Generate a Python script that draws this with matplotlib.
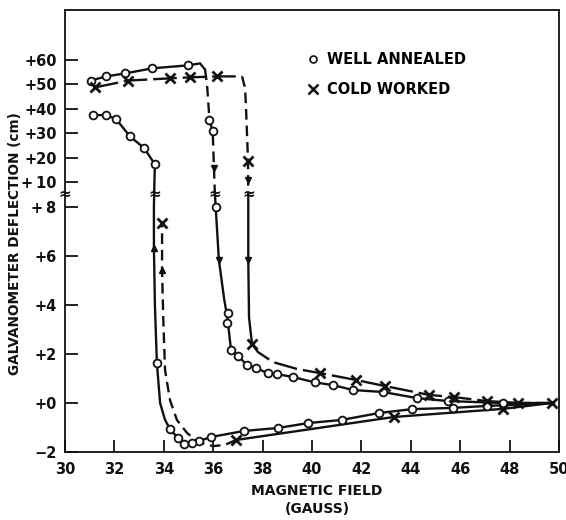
import numpy as np
import matplotlib
matplotlib.use("Agg")
import matplotlib.pyplot as plt
from matplotlib.lines import Line2D

# ---- data (field in gauss, deflection in cm) ----
# well annealed: circles
wa_top_x = [31.05, 31.66, 32.43, 33.53, 34.97]
wa_top_y = [51.6, 53.3, 54.5, 56.6, 57.8]
wa_jump_x = [35.85, 35.98]
wa_jump_y = [35.5, 31.0]
wa_decay_x = [36.1, 36.6, 36.55, 36.72, 37.0, 37.37, 37.73, 38.2, 38.58,
              39.23, 40.12, 40.85, 41.66, 42.87, 44.25, 45.5, 47.73]
wa_decay_y = [8.0, 3.67, 3.25, 2.16, 1.92, 1.55, 1.43, 1.22, 1.18,
              1.06, 0.84, 0.73, 0.53, 0.45, 0.2, 0.08, 0.0]
wa_low_x = [47.08, 45.7, 44.05, 42.71, 41.21, 39.84, 38.62, 37.25, 35.9,
            35.43, 35.14, 34.82, 34.57, 34.25, 33.72]
wa_low_y = [-0.12, -0.2, -0.25, -0.41, -0.69, -0.82, -1.02, -1.14, -1.39,
            -1.55, -1.63, -1.67, -1.43, -1.06, 1.63]
wa_left_x = [33.64, 33.2, 32.63, 32.06, 31.65, 31.14]
wa_left_y = [17.4, 24.1, 28.8, 36.0, 37.5, 37.5]

# cold worked: crosses
cw_top_x = [31.21, 32.55, 34.25, 35.06, 36.15]
cw_top_y = [48.8, 51.6, 52.5, 52.9, 53.3]
cw_jump_x = [37.41]
cw_jump_y = [18.8]
cw_decay_x = [37.57, 40.32, 41.78, 42.96, 44.74, 45.75, 47.08, 48.34, 49.7]
cw_decay_y = [2.41, 1.22, 0.94, 0.69, 0.33, 0.24, 0.08, 0.0, 0.0]
cw_low_x = [47.73, 43.32, 36.92]
cw_low_y = [-0.24, -0.57, -1.51]
cw_left_x = [33.93]
cw_left_y = [7.35]

# curve paths (the drawn lines)
wa_top_path_x = wa_top_x + [35.47, 35.67]
wa_top_path_y = wa_top_y + [58.6, 56.1]
wa_drop_path_x = [35.67, 35.75, 35.85, 35.98, 36.03, 36.07]
wa_drop_path_y = [56.1, 50.0, 35.5, 31.0, 16.0, 9.0]
wa_decay_path_x = [36.07, 36.1, 36.23, 36.45, 36.58, 36.72] + wa_decay_x[4:] + [49.8]
wa_decay_path_y = [9.0, 8.0, 5.84, 4.2, 3.45, 2.16] + wa_decay_y[4:] + [0.0]
wa_low_path_x = [49.8] + wa_low_x[:-1] + [34.05, 33.85, 33.72, 33.64, 33.6, 33.6, 33.62, 33.64] + wa_left_x[1:]
wa_low_path_y = [0.0] + wa_low_y[:-1] + [-0.69, 0.0, 1.63, 4.0, 6.33, 8.0, 10.0, 17.4] + wa_left_y[1:]

cw_top_path_x = cw_top_x + [36.9, 37.17]
cw_top_path_y = cw_top_y + [53.3, 53.3]
cw_fall_path_x = [37.17, 37.25, 37.29, 37.33, 37.41, 37.42]
cw_fall_path_y = [53.3, 50.0, 48.8, 40.0, 18.8, 9.0]
cw_drop_path_x = [37.42, 37.42, 37.45, 37.57]
cw_drop_path_y = [9.0, 5.84, 3.5, 2.41]
cw_decay_path_x = [37.57, 37.81, 38.42, 39.39] + cw_decay_x[1:]
cw_decay_path_y = [2.41, 2.08, 1.67, 1.39] + cw_decay_y[1:]
cw_low_path_x = [49.7] + cw_low_x
cw_low_path_y = [0.0] + cw_low_y
cw_back_path_x = [36.92, 36.48, 35.99, 35.38, 34.94, 34.53, 34.25, 34.05, 33.98, 33.93, 33.93]
cw_back_path_y = [-1.51, -1.71, -1.76, -1.59, -1.22, -0.69, 0.12, 1.35, 3.39, 5.43, 7.35]

# direction arrows
up_x = [33.6, 33.93]
up_y = [6.33, 5.43]
down_x = [36.03, 36.23, 37.41, 37.42]
down_y = [16.1, 5.84, 11.2, 5.84]
# axis break marks
brk_x = [30.0, 33.62, 36.07, 37.42]
brk_y = 9.0

yticks = [-2, 0, 2, 4, 6, 8, 10, 20, 30, 40, 50, 60]
ylabels = ["\u22122", "+0", "+2", "+4", "+6", "+\u20098", "+\u200910",
           "+20", "+30", "+40", "+50", "+60"]
xticks = list(range(30, 51, 2))


def fwd(y):
    y = np.asarray(y, dtype=float)
    return np.where(y <= 8, y, np.where(y <= 10, 8 + (y - 8) / 2, 9 + (y - 10) / 10))


def inv(v):
    v = np.asarray(v, dtype=float)
    return np.where(v <= 8, v, np.where(v <= 9, 8 + (v - 8) * 2, 10 + (v - 9) * 10))


plt.rcParams["font.family"] = ["DejaVu Sans"]
plt.rcParams["font.weight"] = "bold"
K = "#111111"

fig = plt.figure(figsize=(5.66, 5.2), dpi=100)
ax = fig.add_axes([65 / 566, 68 / 520, 494 / 566, 442 / 520])
ax.set_yscale("function", functions=(fwd, inv))
ax.set_xlim(30, 50)
ax.set_ylim(-2, 80.4)

lw = 1.7
solid = dict(color=K, lw=lw, solid_capstyle="round", solid_joinstyle="round")
dash = dict(color=K, lw=lw, linestyle=(0, (4.5, 2.5)))
longdash = dict(color=K, lw=lw, linestyle=(0, (10, 2.5)))

ax.plot(wa_top_path_x, wa_top_path_y, **solid)
ax.plot(wa_drop_path_x, wa_drop_path_y, **dash)
ax.plot(wa_decay_path_x, wa_decay_path_y, **solid)
ax.plot(wa_low_path_x, wa_low_path_y, **solid)
ax.plot(cw_top_path_x, cw_top_path_y, **longdash)
ax.plot(cw_fall_path_x, cw_fall_path_y, **dash)
ax.plot(cw_drop_path_x, cw_drop_path_y, **solid)
ax.plot(cw_decay_path_x, cw_decay_path_y, **longdash)
ax.plot(cw_low_path_x, cw_low_path_y, **solid)
ax.plot(cw_back_path_x, cw_back_path_y, **dash)

circ = dict(ls="none", marker="o", ms=5.6, mfc="white", mec=K, mew=1.3, zorder=4)
for xs, ys in [(wa_top_x, wa_top_y), (wa_jump_x, wa_jump_y), (wa_decay_x, wa_decay_y),
               (wa_low_x, wa_low_y), (wa_left_x, wa_left_y)]:
    ax.plot(xs, ys, **circ)
crs = dict(ls="none", marker="x", ms=6.5, mec=K, mew=2.0, zorder=4)
for xs, ys in [(cw_top_x, cw_top_y), (cw_jump_x, cw_jump_y), (cw_decay_x, cw_decay_y),
               (cw_low_x, cw_low_y), (cw_left_x, cw_left_y)]:
    ax.plot(xs, ys, **crs)

ax.plot(up_x, up_y, ls="none", marker="^", ms=5, color=K, zorder=5)
ax.plot(down_x, down_y, ls="none", marker="v", ms=5, color=K, zorder=5)
for bx in brk_x:
    ax.text(bx, brk_y, "\u2248", ha="center", va="center", fontsize=11,
            fontweight="bold", color=K, zorder=6, clip_on=False)

ax.set_xticks(xticks)
ax.set_xticklabels([str(t) for t in xticks])
ax.set_yticks(yticks)
ax.set_yticklabels(ylabels)
ax.minorticks_off()
ax.tick_params(direction="in", length=9, width=1.3, labelsize=10.5, colors=K)
ax.tick_params(axis="y", pad=6)
ax.tick_params(axis="x", pad=7)
for lab in ax.get_xticklabels() + ax.get_yticklabels():
    lab.set_fontweight("bold")
for s in ax.spines.values():
    s.set_linewidth(1.3)
    s.set_color(K)

fig.text(15 / 566, 1 - 244 / 520, "GALVANOMETER DEFLECTION (cm)", rotation=90,
         ha="center", va="center", fontsize=9.8, fontweight="bold", color=K)
fig.text(317 / 566, 1 - 491 / 520, "MAGNETIC FIELD", ha="center", va="center",
         fontsize=10, fontweight="bold", color=K)
fig.text(317 / 566, 1 - 509 / 520, "(GAUSS)", ha="center", va="center",
         fontsize=10, fontweight="bold", color=K)

handles = [Line2D([], [], ls="none", marker="o", ms=5, mfc="white", mec=K, mew=1.2),
           Line2D([], [], ls="none", marker="x", ms=7, mec=K, mew=1.8)]
ax.legend(handles, ["WELL ANNEALED", "COLD WORKED"], loc="upper left",
          bbox_to_anchor=(307 / 566, 1 - 52 / 520), bbox_transform=fig.transFigure,
          frameon=False, handlelength=0.8, handletextpad=0.6, labelspacing=1.05,
          borderpad=0, borderaxespad=0, prop=dict(size=10.5, weight="bold"))

fig.savefig("out.png", dpi=100)
